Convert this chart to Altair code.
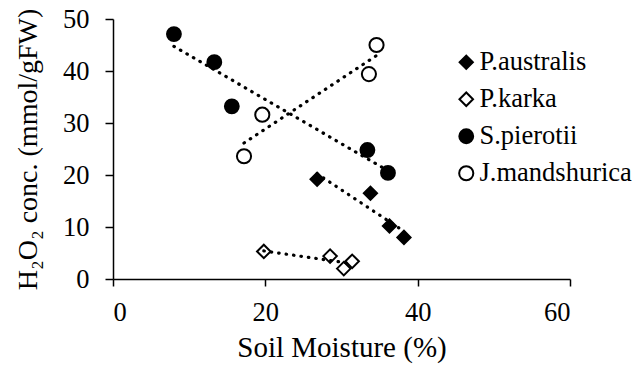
import altair as alt
import pandas as pd

series_order = ["P.australis", "P.karka", "S.pierotii", "J.mandshurica"]

aus_x = [26.8, 33.8, 36.3, 38.2]
aus_y = [19.2, 16.5, 10.2, 8.0]

kar_x = [19.8, 28.5, 30.3, 31.4]
kar_y = [5.3, 4.4, 2.0, 3.4]

pie_x = [8.0, 13.3, 15.6, 33.4, 36.1]
pie_y = [47.1, 41.7, 33.2, 24.8, 20.4]

man_x = [17.2, 19.6, 33.6, 34.6]
man_y = [23.6, 31.6, 39.4, 45.0]

rows = []
for name, xs, ys in [("P.australis", aus_x, aus_y), ("P.karka", kar_x, kar_y),
                     ("S.pierotii", pie_x, pie_y), ("J.mandshurica", man_x, man_y)]:
    for a, b in zip(xs, ys):
        rows.append({"series": name, "x": a, "y": b})
df = pd.DataFrame(rows)

FONT = "Liberation Serif"

xenc = alt.X("x:Q", scale=alt.Scale(domain=[0, 60], nice=False, zero=False),
             axis=alt.Axis(values=[0, 20, 40, 60], title="Soil Moisture (%)",
                           grid=False, tickSize=7, labelPadding=13, titlePadding=8,
                           titleFontSize=29))
yenc = alt.Y("y:Q", scale=alt.Scale(domain=[0, 50], nice=False),
             axis=alt.Axis(values=[0, 10, 20, 30, 40, 50], title="H₂O₂ conc. (mmol/gFW)",
                           grid=False, tickSize=8, labelPadding=16, titlePadding=20,
                           titleFontSize=28))

points = alt.Chart(df).mark_point(filled=True, strokeWidth=2, opacity=1).encode(
    x=xenc,
    y=yenc,
    shape=alt.Shape("series:N", scale=alt.Scale(domain=series_order,
                    range=["diamond", "diamond", "circle", "circle"])),
    fill=alt.Fill("series:N", scale=alt.Scale(domain=series_order,
                  range=["black", "white", "black", "white"])),
    stroke=alt.Stroke("series:N", scale=alt.Scale(domain=series_order,
                      range=["black", "black", "black", "black"])),
    size=alt.Size("series:N", scale=alt.Scale(domain=series_order,
                  range=[175, 200, 240, 115])),
)

lines = alt.Chart(df).transform_regression("x", "y", groupby=["series"]).mark_line(
    color="black", strokeWidth=3.2, strokeDash=[0.5, 7], strokeCap="round"
).encode(x="x:Q", y="y:Q", detail="series:N")

chart = alt.layer(points, lines).properties(
    width=457, height=260,
    padding={"left": 113, "top": 19, "right": 62, "bottom": 91},
    autosize=alt.AutoSizeParams(type="none"),
).configure_view(stroke=None).configure_axis(
    domainColor="black", tickColor="black", domainWidth=1.5, tickWidth=1.5,
    labelFont=FONT, labelFontSize=26.5, labelColor="black",
    titleFont=FONT, titleFontWeight="normal", titleColor="black",
).configure_legend(
    orient="none", legendX=340, legendY=30, title=None,
    labelFont=FONT, labelFontSize=26.5, labelColor="black",
    symbolStrokeWidth=2, rowPadding=10, labelOffset=0,
    padding=0,
)

chart.save("out.html", embed_options={"renderer": "svg", "actions": False})
